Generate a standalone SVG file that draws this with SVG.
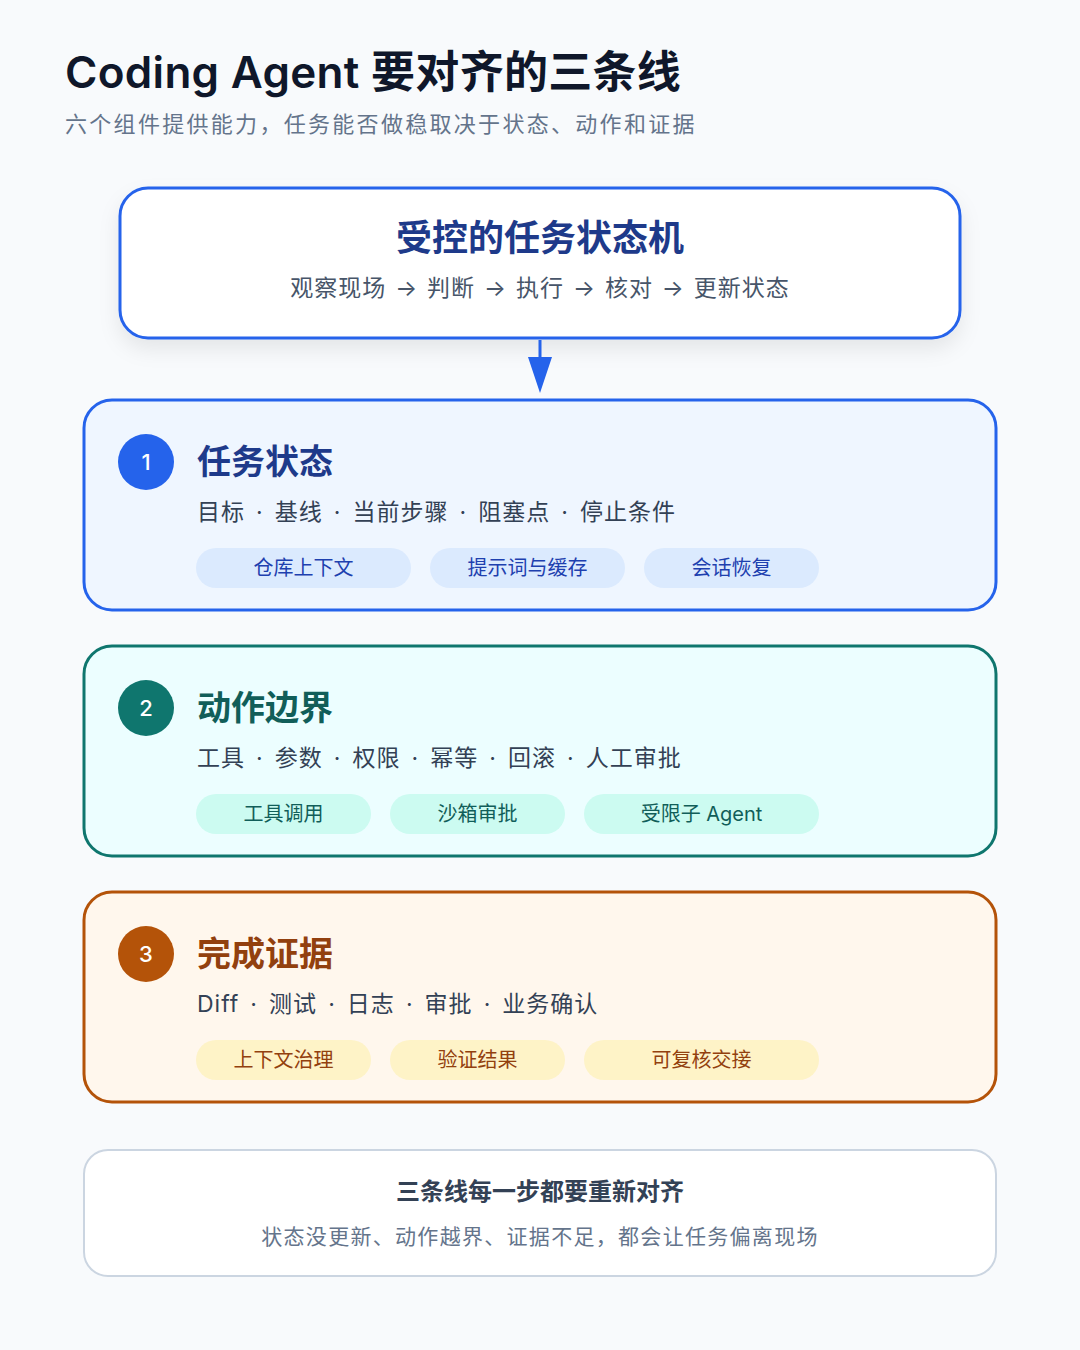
<svg xmlns="http://www.w3.org/2000/svg" width="1080" height="1350" viewBox="0 0 1080 1350">
<defs>
<style>
text{font-family:Inter,"Noto Sans CJK SC",sans-serif}
.h1{font-size:44px;font-weight:600;fill:#0f172a;letter-spacing:0.3px}
.sub{font-size:22px;fill:#64748b;letter-spacing:2.3px}
.ttl{font-size:34px;font-weight:700}
.line{font-size:23px;fill:#334155;letter-spacing:1px;word-spacing:3.6px}
.pill{font-size:20px;text-anchor:middle}
.num{font-size:22px;fill:#ffffff;text-anchor:middle;font-weight:500}
</style>
<filter id="sh" x="-10%" y="-20%" width="120%" height="150%">
<feDropShadow dx="0" dy="10" stdDeviation="10" flood-color="#0f172a" flood-opacity="0.08"/>
</filter>
</defs>
<rect width="1080" height="1350" fill="#f8fafc"/>
<g id="header">
<text x="65" y="88" class="h1">Coding Agent 要对齐的三条线</text>
<text x="65" y="132" class="sub">六个组件提供能力，任务能否做稳取决于状态、动作和证据</text>
</g>
<g id="machine">
<rect x="120" y="188" width="840" height="150" rx="28" fill="#ffffff" stroke="#2563eb" stroke-width="3" filter="url(#sh)"/>
<text x="540" y="251" text-anchor="middle" style="font-size:36px;font-weight:700;fill:#1e3a8a">受控的任务状态机</text>
<text x="540" y="296" text-anchor="middle" style="font-size:23px;fill:#475569;letter-spacing:1px;word-spacing:1.5px">观察现场 → 判断 → 执行 → 核对 → 更新状态</text>
</g>
<g id="connectors">
<line x1="540" y1="340" x2="540" y2="358" stroke="#2563eb" stroke-width="3"/>
<path d="M528 357 L552 357 L540 393 Z" fill="#2563eb"/>
</g>
<g id="card1">
<rect x="84" y="400" width="912" height="210" rx="28" fill="#eff6ff" stroke="#2563eb" stroke-width="3"/>
<circle cx="146" cy="462" r="28" fill="#2563eb"/>
<text x="146" y="470" class="num">1</text>
<text x="197" y="474" class="ttl" fill="#1e3a8a">任务状态</text>
<text x="197" y="520" class="line">目标 · 基线 · 当前步骤 · 阻塞点 · 停止条件</text>
<rect x="196" y="548" width="215" height="40" rx="20" fill="#dbeafe"/>
<text x="303.5" y="575" class="pill" fill="#1e40af">仓库上下文</text>
<rect x="430" y="548" width="195" height="40" rx="20" fill="#dbeafe"/>
<text x="527.5" y="575" class="pill" fill="#1e40af">提示词与缓存</text>
<rect x="644" y="548" width="175" height="40" rx="20" fill="#dbeafe"/>
<text x="731.5" y="575" class="pill" fill="#1e40af">会话恢复</text>
</g>
<g id="card2">
<rect x="84" y="646" width="912" height="210" rx="28" fill="#ecfeff" stroke="#0f766e" stroke-width="3"/>
<circle cx="146" cy="708" r="28" fill="#0f766e"/>
<text x="146" y="716" class="num">2</text>
<text x="197" y="720" class="ttl" fill="#115e59">动作边界</text>
<text x="197" y="766" class="line">工具 · 参数 · 权限 · 幂等 · 回滚 · 人工审批</text>
<rect x="196" y="794" width="175" height="40" rx="20" fill="#ccfbf1"/>
<text x="283.5" y="821" class="pill" fill="#115e59">工具调用</text>
<rect x="390" y="794" width="175" height="40" rx="20" fill="#ccfbf1"/>
<text x="477.5" y="821" class="pill" fill="#115e59">沙箱审批</text>
<rect x="584" y="794" width="235" height="40" rx="20" fill="#ccfbf1"/>
<text x="701.5" y="821" class="pill" fill="#115e59">受限子 Agent</text>
</g>
<g id="card3">
<rect x="84" y="892" width="912" height="210" rx="28" fill="#fff7ed" stroke="#b45309" stroke-width="3"/>
<circle cx="146" cy="954" r="28" fill="#b45309"/>
<text x="146" y="962" class="num">3</text>
<text x="197" y="966" class="ttl" fill="#92400e">完成证据</text>
<text x="197" y="1012" class="line">Diff · 测试 · 日志 · 审批 · 业务确认</text>
<rect x="196" y="1040" width="175" height="40" rx="20" fill="#fef3c7"/>
<text x="283.5" y="1067" class="pill" fill="#92400e">上下文治理</text>
<rect x="390" y="1040" width="175" height="40" rx="20" fill="#fef3c7"/>
<text x="477.5" y="1067" class="pill" fill="#92400e">验证结果</text>
<rect x="584" y="1040" width="235" height="40" rx="20" fill="#fef3c7"/>
<text x="701.5" y="1067" class="pill" fill="#92400e">可复核交接</text>
</g>
<g id="summary">
<rect x="84" y="1150" width="912" height="126" rx="24" fill="#ffffff" stroke="#cbd5e1" stroke-width="2"/>
<text x="540" y="1200" text-anchor="middle" style="font-size:24px;font-weight:700;fill:#334155">三条线每一步都要重新对齐</text>
<text x="540" y="1244" text-anchor="middle" style="font-size:21px;fill:#64748b;letter-spacing:1.3px">状态没更新、动作越界、证据不足，都会让任务偏离现场</text>
</g>
</svg>
